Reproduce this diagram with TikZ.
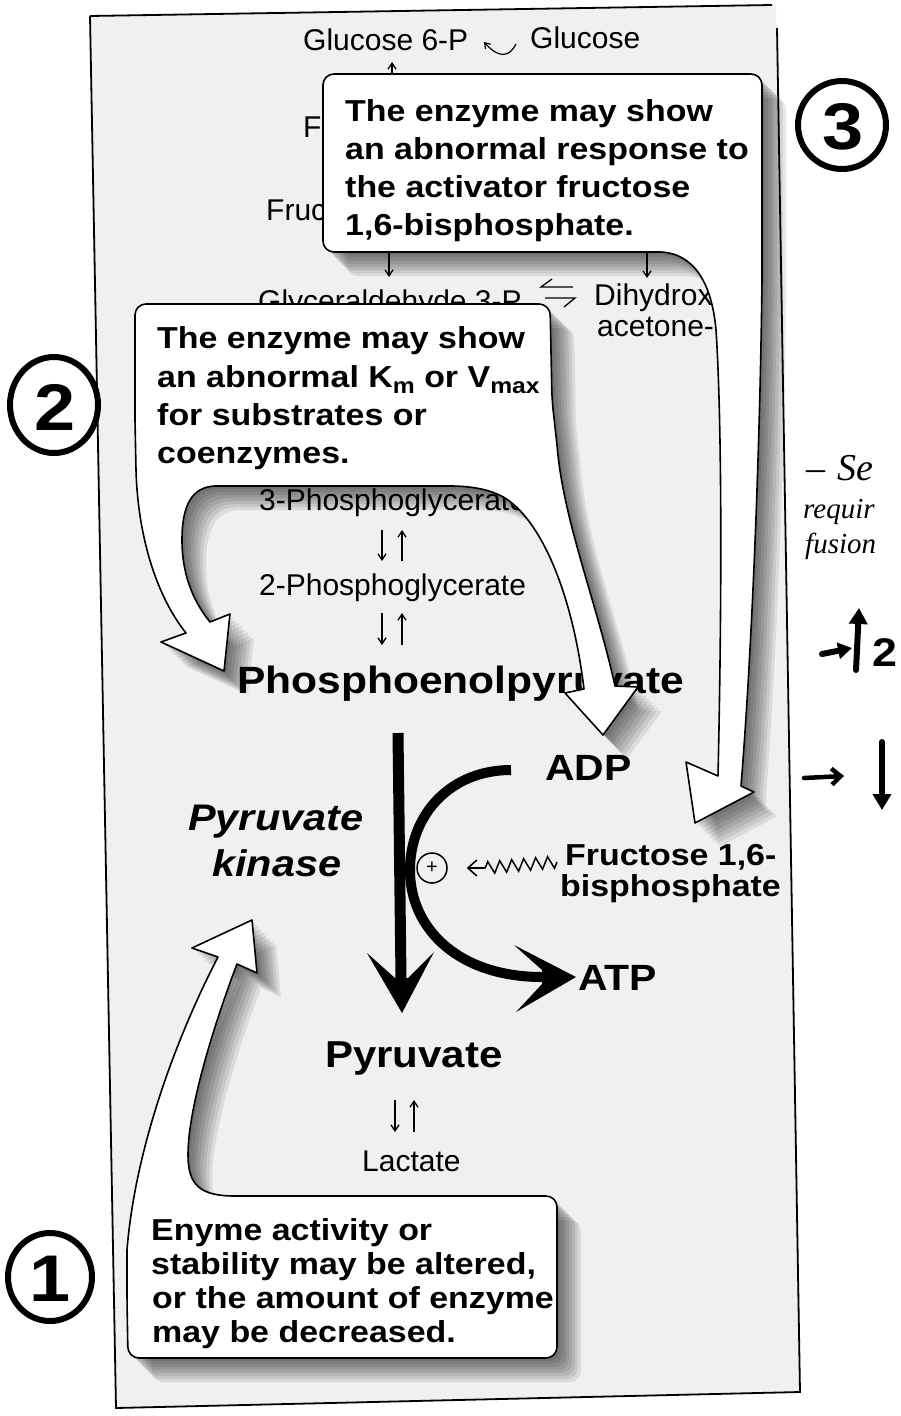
\documentclass[tikz,border=0pt]{standalone}
\usepackage{fontspec}
\setmainfont{Liberation Sans}
\newfontfamily\wb{Liberation Sans}[FakeStretch=1.12]
\newfontfamily\hand{Liberation Serif}
\usetikzlibrary{arrows.meta,decorations.pathmorphing}

% callout shapes (box + white arrow arms)
\newcommand\shapeC{[rounded corners=11pt] (323,170) -- (323,74) -- (762,74) -- (762,200) [sharp corners] -- (762,280) .. controls (760,450) and (752,650) .. (741,786) -- (754,792) -- (695,823) -- (686,762) -- (718,776) .. controls (722,600) and (722,420) .. (716,330) .. controls (712,285) and (695,253) .. (660,252) [rounded corners=11pt] -- (323,252) -- cycle}
\newcommand\shapeB{[rounded corners=11pt] (135,420) -- (135,304) -- (550,304) -- (552,400) [sharp corners] -- (557,445) .. controls (563,520) and (596,600) .. (615,686) -- (638,687) -- (603,735) -- (565,693) -- (584,689) .. controls (572,590) and (540,520) .. (505,498) .. controls (490,489) and (470,486) .. (450,486) -- (215,486) .. controls (192,487) and (182,505) .. (182,540) .. controls (182,580) and (197,606) .. (210,622) -- (230,614) -- (224,671) -- (161,642) -- (186,633) .. controls (158,598) and (138,540) .. (136,470) -- cycle}
\newcommand\shapeA{[rounded corners=11pt] (400,1196) -- (557,1196) -- (557,1358) -- (128,1358) -- (127,1300) [sharp corners] -- (127,1250) .. controls (135,1150) and (175,1040) .. (218,957) -- (192,948) -- (252,920) -- (257,973) -- (237,964) .. controls (212,1030) and (188,1110) .. (188,1155) .. controls (188,1185) and (200,1196) .. (235,1196) -- cycle}

\tikzset{
  reg/.style={font=\fontsize{30}{36}\selectfont, anchor=base west, inner sep=0pt},
  boxt/.style={font=\wb\bfseries\fontsize{30.3}{38}\selectfont, anchor=base west, inner sep=0pt},
  big/.style={font=\wb\bfseries\fontsize{37.5}{40}\selectfont, anchor=base west, inner sep=0pt},
  bigi/.style={font=\wb\bfseries\itshape\fontsize{37}{40}\selectfont, anchor=base west, inner sep=0pt},
  thinarr/.style={line width=1.3pt, -{Straight Barb[length=6pt,width=8pt]}},
  callout/.style={fill=white, draw=black, line width=1.6pt, line join=round},
  dropsh/.style={fill=black, fill opacity=0.085, draw=none},
  hw/.style={line width=6pt, line cap=round, line join=round},
  hwt/.style={font=\hand\itshape\fontsize{29}{30}\selectfont, anchor=base west, inner sep=0pt},
  digit/.style={font=\wb\bfseries\fontsize{66}{66}\selectfont, inner sep=0pt},
}

\begin{document}
\begin{tikzpicture}[x=1pt,y=-1pt]
\useasboundingbox (0,0) rectangle (900,1416);
\begin{scope}
\clip (0,0) rectangle (900,1416);

% panel
\fill[black!6] (90,16) -- (776,5) -- (800,1392) -- (116,1408) -- cycle;
\draw[line width=1.8pt] (90,16) -- (772,5);
\draw[line width=1.8pt] (777,28) -- (800,1392) -- (116,1408) -- (90,16);

% pathway labels (behind callouts)
\node[reg] (g6p) at (303,50) {Glucose 6-P};
\node[reg] (glc) at (530,48) {Glucose};
\node[reg] (f6p) at (303,137) {F};
\node[reg] (f16) at (266,220) {Fruc};
\node[reg] (gap) at (258,311) {Glyceraldehyde 3-P};
\node[reg] (dhap1) at (594,305) {Dihydroxy};
\node[reg] (dhap2) at (597,336) {acetone-P};
\node[reg] (pg3) at (259,510) {3-Phosphoglycerate};
\node[reg] (pg2) at (259,595) {2-Phosphoglycerate};
\node[big, font=\wb\bfseries\fontsize{38}{40}\selectfont] (pep) at (237,693) {Phosphoenolpyruvate};

% glucose hook arrow and small up arrow
\coordinate (hk1) at (516,44);
\coordinate (hk2) at (484,42);
\draw[line width=1.2pt, -{Straight Barb[length=5pt,width=7pt]}] (hk1) .. controls (510,56) and (500,60) .. (hk2);
\coordinate (ua1) at (392,90);
\coordinate (ua2) at (392,62);
\draw[thinarr] (ua1) -- (ua2);

% reversible arrow pairs
\coordinate (p1a) at (382,530); \coordinate (p1b) at (382,561);
\coordinate (p1c) at (402,561); \coordinate (p1d) at (402,530);
\draw[thinarr] (p1a) -- (p1b);
\draw[thinarr] (p1c) -- (p1d);
\coordinate (p2a) at (382,613); \coordinate (p2b) at (382,645);
\coordinate (p2c) at (402,645); \coordinate (p2d) at (402,613);
\draw[thinarr] (p2a) -- (p2b);
\draw[thinarr] (p2c) -- (p2d);

% shadows
\foreach \s in {3,6,...,24}{
  \begin{scope}[shift={(\s,\s)}]
    \fill[dropsh] \shapeC;
    \fill[dropsh] \shapeB;
    \fill[dropsh] \shapeA;
  \end{scope}
}

% callouts
\path[callout] \shapeC;
\path[callout] \shapeB;
\path[callout] \shapeA;

% callout texts
\node[boxt] (c3a) at (345,121) {The enzyme may show};
\node[boxt] (c3b) at (345,159) {an abnormal response to};
\node[boxt] (c3c) at (345,197) {the activator fructose};
\node[boxt] (c3d) at (345,235) {1,6-bisphosphate.};

\node[boxt] (c2a) at (157,348) {The enzyme may show};
\node[boxt] (c2b) at (157,387) {an abnormal K\raisebox{-6pt}{\fontsize{22}{22}\selectfont m} or V\raisebox{-6pt}{\fontsize{22}{22}\selectfont max}};
\node[boxt] (c2c) at (157,425) {for substrates or};
\node[boxt] (c2d) at (157,463) {coenzymes.};

\node[boxt] (c1a) at (151,1240) {Enyme activity or};
\node[boxt] (c1b) at (151,1274) {stability may be altered,};
\node[boxt] (c1c) at (152,1308) {or the amount of enzyme};
\node[boxt] (c1d) at (152,1342) {may be decreased.};

% arrows under box 3 and between triose phosphates
\coordinate (da1) at (389,253); \coordinate (da2) at (389,277);
\coordinate (db1) at (647,253); \coordinate (db2) at (647,278);
\draw[thinarr] (da1) -- (da2);
\draw[thinarr] (db1) -- (db2);
\coordinate (h1a) at (573,287); \coordinate (h1b) at (541,287); \coordinate (h1c) at (552,279);
\coordinate (h2a) at (545,298); \coordinate (h2b) at (575,298); \coordinate (h2c) at (564,307);
\draw[line width=1.3pt] (h1a) -- (h1b) -- (h1c);
\draw[line width=1.3pt] (h2a) -- (h2b) -- (h2c);

% central reaction
\node[bigi] (pk1) at (188,830) {Pyruvate};
\node[bigi] (pk2) at (212,876) {kinase};
\node[big, font=\wb\bfseries\fontsize{36.5}{40}\selectfont] (adp) at (545,780) {ADP};
\node[big, font=\wb\bfseries\fontsize{36.5}{40}\selectfont] (atp) at (578,990) {ATP};
\node[boxt] (fbp1) at (565,865) {Fructose 1,6-};
\node[boxt] (fbp2) at (560,896) {bisphosphate};
\node[big] (pyr) at (325,1067) {Pyruvate};
\node[reg] (lac) at (362,1171) {Lactate};

\coordinate (shtop) at (398,733);
\coordinate (shend) at (401,978);
\draw[line width=11pt] (shtop) -- (shend);
\fill (402,1013) -- (434,952) -- (408,978) -- (395,978) -- (367,953) -- cycle;

\coordinate (cstart) at (511,770);
\coordinate (cend) at (542,977);
\draw[line width=10pt] (cstart) .. controls (450,770) and (410,815) .. (410,870) .. controls (410,930) and (460,977) .. (cend);
\fill (576,977) -- (514,945) -- (542,970) -- (542,984) -- (516,1012) -- cycle;

\node[circle, draw, line width=1.5pt, minimum size=30pt, inner sep=0pt, font=\fontsize{20}{20}\selectfont] (plus) at (432,868) {+};
\coordinate (zz1) at (557,862);
\coordinate (zz2) at (484,868);
\draw[line width=1.5pt, decorate, decoration={zigzag, amplitude=6pt, segment length=12pt}] (zz1) -- (zz2);
\draw[line width=1.5pt, -{Straight Barb[length=9pt,width=16pt]}] (zz2) -- ([xshift=19pt]plus.east);

\coordinate (p3a) at (395,1100); \coordinate (p3b) at (395,1132);
\coordinate (p3c) at (414,1132); \coordinate (p3d) at (414,1100);
\draw[thinarr] (p3a) -- (p3b);
\draw[thinarr] (p3c) -- (p3d);

% handwritten annotations
\draw[hw] (842,125) ellipse (44 and 44);
\node[digit] (n3) at (843,127) {3};
\draw[hw] (54,405) ellipse (44 and 48);
\node[digit] (n2) at (55,407) {2};
\draw[hw] (50,1277) ellipse (42 and 44);
\node[digit] (n1) at (50,1279) {1};

\node[hwt, font=\hand\itshape\fontsize{38}{40}\selectfont] (t1) at (806,480) {–\hspace{12pt}Se};
\node[hwt] (t2) at (803,518) {requir};
\node[hwt] (t3) at (805,553) {fusion};
\coordinate (ra1) at (822,654); \coordinate (ra2) at (852,648);
\draw[hw, -{Triangle[length=14pt,width=16pt]}] (ra1) -- (ra2);
\coordinate (ua3) at (856,670); \coordinate (ua4) at (859,608);
\draw[hw, -{Triangle[length=16pt,width=18pt]}] (ua3) -- (ua4);
\node[digit, anchor=base west, font=\wb\bfseries\fontsize{40}{40}\selectfont] (t4) at (872,666) {2};
\coordinate (rb1) at (804,778); \coordinate (rb2) at (844,776);
\draw[hw, line width=4.5pt, -{Straight Barb[length=9pt,width=16pt]}] (rb1) -- (rb2);
\coordinate (db3) at (882,742); \coordinate (db4) at (882,810);
\draw[hw, -{Triangle[length=16pt,width=18pt]}] (db3) -- (db4);

\end{scope}
\end{tikzpicture}
\end{document}
